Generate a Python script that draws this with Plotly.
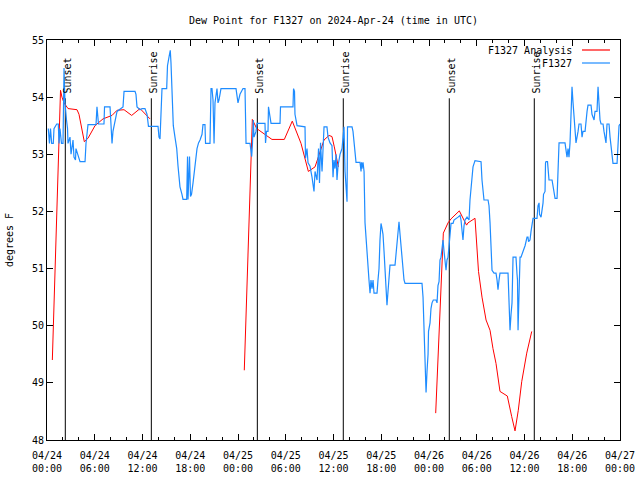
import plotly.graph_objects as go

# ---------------- data ----------------
# hours since 2024-04-24 00:00 UTC
blue_hours = [0.16, 0.31, 0.44, 0.59, 0.79, 0.88, 1.22, 1.42, 1.51, 1.63, 1.82, 2.01, 2.14, 2.26, 2.45, 2.58, 2.64,
              2.89, 3.02, 3.27, 3.39, 3.58, 3.64, 3.90, 4.15, 4.78, 4.90, 5.15, 6.16, 6.28, 6.47, 7.16, 7.23, 7.92,
              8.04, 8.17, 8.29, 8.55, 8.80, 9.55, 9.68, 11.06, 11.18, 11.31, 11.69, 11.94, 12.31, 12.57, 12.75,
              13.95, 14.07, 14.20, 14.29, 14.39, 14.45, 15.04, 15.14, 15.33, 15.49, 15.58, 15.71, 15.87, 16.08,
              16.30, 16.46, 16.71, 16.96, 17.09, 17.55, 17.66, 17.72, 17.91, 18.03, 18.16, 18.35, 18.60, 18.85,
              19.04, 19.23, 19.48, 19.60, 19.85, 19.92, 20.48, 20.61, 20.73, 20.86, 20.99, 21.11, 21.36, 21.49,
              21.61, 21.86, 23.75, 23.88, 24.00, 24.25, 24.47, 24.63, 24.88, 25.01, 25.51, 25.72, 25.82, 25.92,
              26.01, 26.26, 26.39, 27.39, 27.46, 27.58, 27.77, 27.83, 28.02, 28.15, 29.28, 29.34, 30.91, 30.98,
              31.10, 31.16, 31.42, 32.42, 32.48, 32.67, 32.80, 33.05, 33.30, 33.55, 33.68, 33.93, 34.12, 34.24,
              34.37, 34.56, 34.81, 35.18, 35.31, 35.56, 35.81, 35.94, 36.06, 36.19, 36.32, 36.44, 36.57, 36.82,
              37.07, 37.20, 37.32, 37.45, 37.70, 37.76, 38.33, 38.45, 38.58, 38.70, 38.83, 39.33, 39.46, 39.52,
              39.58, 39.71, 39.84, 39.96, 40.09, 40.21, 40.34, 40.46, 40.59, 40.71, 40.84, 40.97, 41.09, 41.47,
              41.59, 41.72, 41.84, 41.97, 42.10, 42.22, 42.35, 42.47, 42.60, 42.72, 42.85, 42.98, 43.10, 43.73,
              43.86, 43.98, 44.11, 44.23, 44.36, 44.48, 44.61, 44.73, 44.86, 44.99, 47.12, 47.25, 47.37, 47.50,
              47.56, 47.63, 47.75, 47.88, 47.94, 48.13, 48.25, 48.38, 48.54, 48.88, 49.01, 49.13, 49.26, 49.38,
              49.51, 49.64, 49.76, 49.89, 50.01, 50.14, 50.26, 50.39, 50.52, 50.64, 50.77, 51.02, 51.14, 51.65,
              51.90, 52.02, 52.15, 52.27, 52.40, 52.53, 52.78, 53.03, 53.15, 53.34, 53.53, 53.78, 54.54, 54.66,
              54.79, 54.91, 55.42, 55.54, 55.67, 55.79, 55.92, 56.17, 56.42, 56.55, 56.67, 56.80, 56.92, 57.93,
              58.05, 58.18, 58.31, 58.43, 58.56, 58.93, 59.06, 59.12, 59.19, 59.31, 59.44, 59.56, 59.81, 60.07,
              60.32, 60.44, 60.51, 60.69, 60.82, 60.95, 61.07, 61.57, 61.70, 61.83, 61.89, 62.08, 62.20, 62.33,
              62.39, 62.58, 62.64, 62.70, 62.89, 62.96, 63.08, 63.46, 63.58, 63.71, 63.84, 64.09, 64.15, 64.28,
              64.34, 65.09, 65.22, 65.34, 65.47, 65.59, 65.72, 65.97, 66.10, 66.22, 66.47, 66.73, 66.85, 67.10,
              67.23, 67.35, 67.61, 67.86, 67.98, 68.36, 68.48, 68.74, 68.86, 69.11, 69.24, 69.36, 69.49, 69.62,
              69.87, 69.99, 70.24, 70.37, 70.62, 70.75, 71.00, 71.12, 71.63, 71.75, 71.88, 72.00]
blue_values = [53.45, 53.19, 53.45, 53.19, 53.19, 53.45, 53.53, 53.53, 53.19, 53.45, 53.19, 53.19, 54.51, 53.90,
               53.60, 53.45, 53.19, 53.30, 53.00, 53.25, 52.95, 52.90, 53.10, 53.00, 52.87, 52.87, 53.19, 53.52,
               53.52, 53.83, 53.53, 53.53, 53.83, 53.83, 53.53, 53.19, 53.40, 53.55, 53.75, 53.83, 54.10, 54.10,
               54.05, 53.83, 53.78, 53.80, 53.80, 53.70, 53.49, 53.49, 53.30, 53.27, 53.50, 53.92, 54.15, 54.15,
               54.55, 54.70, 54.82, 54.60, 54.10, 53.50, 53.30, 53.10, 52.80, 52.43, 52.30, 52.21, 52.21, 52.96,
               52.21, 52.96, 52.26, 52.30, 52.50, 52.80, 53.10, 53.20, 53.25, 53.35, 53.52, 53.52, 53.19, 53.19,
               54.15, 54.15, 53.95, 53.19, 53.90, 54.15, 53.90, 53.95, 54.15, 54.15, 53.95, 53.90, 54.05, 54.10,
               54.15, 54.15, 53.19, 53.19, 52.96, 53.19, 53.60, 53.30, 53.40, 53.54, 53.54, 53.20, 53.40, 53.40,
               53.83, 53.66, 53.54, 53.54, 53.83, 53.83, 54.15, 54.10, 53.70, 53.50, 53.48, 52.93, 53.10, 52.85,
               52.79, 52.60, 52.35, 52.70, 52.55, 53.10, 52.50, 53.20, 52.70, 53.48, 53.48, 53.30, 53.20, 53.15,
               52.60, 52.90, 52.75, 53.00, 52.55, 52.80, 53.00, 53.10, 53.35, 53.48, 52.70, 52.17, 53.48, 53.48,
               53.40, 53.20, 53.00, 52.86, 52.86, 52.70, 52.86, 52.75, 52.86, 52.70, 51.80, 51.50, 51.27, 50.90,
               50.80, 50.57, 50.80, 50.65, 50.80, 50.57, 50.57, 50.80, 51.00, 51.50, 51.79, 51.70, 51.60, 51.30,
               50.90, 50.60, 50.36, 50.60, 50.80, 51.06, 51.06, 51.30, 51.50, 51.70, 51.82, 51.60, 51.40, 51.20,
               51.00, 50.80, 50.74, 50.74, 50.50, 50.05, 49.60, 49.12, 48.83, 49.20, 49.50, 49.90, 50.05, 50.30,
               50.40, 50.45, 50.45, 50.40, 50.70, 50.77, 51.15, 51.20, 51.40, 51.50, 51.30, 51.10, 50.97, 51.15,
               51.20, 51.40, 51.55, 51.79, 51.79, 51.85, 51.90, 51.93, 51.85, 51.60, 51.50, 51.75, 51.85, 51.90,
               51.85, 52.20, 52.55, 52.78, 52.89, 52.87, 52.55, 52.40, 52.20, 52.20, 52.10, 51.80, 51.40, 50.97,
               50.92, 50.92, 50.80, 50.63, 50.80, 50.92, 50.92, 50.50, 49.92, 50.20, 50.40, 51.20, 51.20, 50.90,
               50.80, 49.92, 50.90, 51.20, 51.20, 51.30, 51.40, 51.55, 51.55, 51.47, 51.50, 51.65, 51.80, 51.88,
               51.88, 52.10, 52.15, 51.95, 51.90, 52.00, 52.15, 52.30, 52.35, 52.85, 52.87, 52.87, 52.70, 52.55,
               52.55, 52.45, 52.30, 52.23, 52.23, 52.50, 52.95, 53.20, 53.20, 53.10, 52.95, 53.10, 52.95, 53.20,
               54.18, 53.90, 53.60, 53.20, 53.40, 53.53, 53.53, 53.30, 53.40, 53.40, 53.75, 53.86, 53.86, 53.70,
               53.60, 53.75, 53.75, 54.18, 53.90, 53.60, 53.53, 53.53, 53.40, 53.20, 53.53, 53.53, 53.30, 53.00,
               52.84, 52.84, 53.20, 53.50, 53.53]

red_hours = [0.67, 1.70, 1.88, 2.14, 2.64, 3.77, 4.02, 4.69, 5.15, 6.03, 7.04, 8.17, 8.80, 9.68, 10.64, 11.69, 12.94,
             None,
             24.79, 25.80, 26.35, 27.02, 27.81, 28.27, 29.82, 30.82, 31.92, 32.84, 33.68, 34.81, 35.44, 35.81,
             36.10, 36.61,
             None,
             48.84, 49.80, 50.39, 50.77, 51.81, 52.72, 52.90, 53.78, 54.22, 54.66, 55.17, 55.67, 56.04, 56.42,
             56.92, 57.84, 58.39, 58.81, 59.22, 59.65, 60.28, 60.91]
red_values = [49.40, 54.12, 54.00, 53.90, 53.80, 53.78, 53.70, 53.22, 53.28, 53.50, 53.62, 53.68, 53.77, 53.78,
              53.68, 53.80, 53.62,
              None,
              49.22, 53.61, 53.45, 53.38, 53.30, 53.26, 53.26, 53.58, 53.19, 52.70, 52.78, 53.25, 53.33, 53.31,
              53.13, 52.78,
              None,
              48.47, 51.62, 51.80, 51.87, 52.01, 51.76, 51.80, 51.88, 50.95, 50.50, 50.10, 49.92, 49.60, 49.34,
              48.85, 48.77, 48.41, 48.16, 48.52, 49.02, 49.52, 49.90]

sun_hours = [2.30, 13.11, 26.43, 37.23, 50.55, 61.23]
sun_labels = ["Sunset", "Sunrise", "Sunset", "Sunrise", "Sunset", "Sunrise"]
sun_line_top = 53.98

tick_hours = [0, 6, 12, 18, 24, 30, 36, 42, 48, 54, 60, 66, 72]
tick_labels = ["04/24<br>00:00", "04/24<br>06:00", "04/24<br>12:00", "04/24<br>18:00",
               "04/25<br>00:00", "04/25<br>06:00", "04/25<br>12:00", "04/25<br>18:00",
               "04/26<br>00:00", "04/26<br>06:00", "04/26<br>12:00", "04/26<br>18:00",
               "04/27<br>00:00"]
y_ticks = [48, 49, 50, 51, 52, 53, 54, 55]

series_names = ["F1327 Analysis", "F1327"]
RED = "#ff0000"
BLUE = "#1e8cff"
FONT = "DejaVu Sans Mono"

# ---------------- figure ----------------
fig = go.Figure()

# sunrise / sunset markers
for h in sun_hours:
    fig.add_trace(go.Scatter(x=[h, h], y=[48, sun_line_top], mode="lines",
                             line=dict(color="black", width=1), showlegend=False, hoverinfo="skip"))

fig.add_trace(go.Scatter(x=red_hours, y=red_values, mode="lines", name=series_names[0],
                         line=dict(color=RED, width=1), connectgaps=False, showlegend=False))
fig.add_trace(go.Scatter(x=blue_hours, y=blue_values, mode="lines", name=series_names[1],
                         line=dict(color=BLUE, width=1.2), showlegend=False))

annotations = []
for h, lab in zip(sun_hours, sun_labels):
    annotations.append(dict(x=h, y=sun_line_top, xref="x", yref="y", text=lab, textangle=-90,
                            showarrow=False, xanchor="center", yanchor="bottom", yshift=3, xshift=2,
                            font=dict(family=FONT, size=10, color="black")))

# gnuplot-style legend (text left of the sample line)
leg_y = [0.975, 0.9425]
leg_colors = [RED, BLUE]
shapes = []
for name, yy, col in zip(series_names, leg_y, leg_colors):
    annotations.append(dict(x=0.9197, y=yy, xref="paper", yref="paper", text=name, showarrow=False,
                            xanchor="right", yanchor="middle", font=dict(family=FONT, size=10, color="black")))
    shapes.append(dict(type="line", xref="paper", yref="paper", x0=0.9337, x1=0.9825, y0=yy, y1=yy,
                       line=dict(color=col, width=1.2)))

fig.update_layout(
    width=640, height=480,
    margin=dict(l=47, r=20, t=40, b=40),
    paper_bgcolor="white", plot_bgcolor="white",
    font=dict(family=FONT, size=10, color="black"),
    title=dict(text="Dew Point for F1327 on 2024-Apr-24 (time in UTC)", x=0.5, xref="paper",
               y=0.958, yref="container", xanchor="center", yanchor="middle",
               font=dict(family=FONT, size=10, color="black")),
    annotations=annotations,
    shapes=shapes,
    showlegend=False,
)

fig.update_xaxes(range=[0, 72], tickmode="array", tickvals=tick_hours, ticktext=tick_labels,
                 showline=True, linecolor="black", linewidth=1, mirror="ticks", automargin=False,
                 ticks="inside", ticklen=6, tickcolor="black", showgrid=False, zeroline=False,
                 ticklabelstandoff=6,
                 tickfont=dict(family=FONT, size=10, color="black"),
                 minor=dict(tickmode="linear", tick0=0, dtick=2, ticks="inside", ticklen=3,
                            tickcolor="black", showgrid=False))
fig.update_yaxes(range=[48, 55], tickmode="array", tickvals=y_ticks, automargin=False,
                 showline=True, linecolor="black", linewidth=1, mirror="ticks",
                 ticks="inside", ticklen=6, tickcolor="black", showgrid=False, zeroline=False,
                 tickfont=dict(family=FONT, size=10, color="black"),
                 title=dict(text="degrees F", standoff=16, font=dict(family=FONT, size=10, color="black")))

fig.write_html("out.html", config={"displayModeBar": False},
               post_script="document.body.style.margin='0';")
